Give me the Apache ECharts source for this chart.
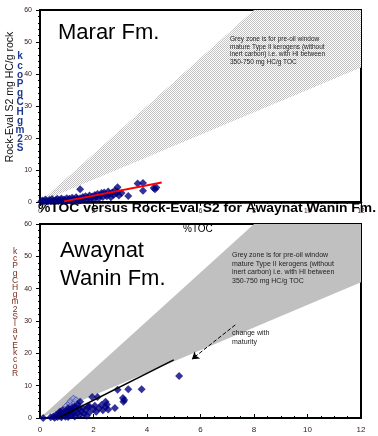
<!DOCTYPE html>
<html>
<head>
<meta charset="utf-8">
<script src="https://cdn.jsdelivr.net/npm/echarts@6/dist/echarts.min.js"></script>
<style>
  html, body { margin: 0; padding: 0; background: #fff; }
  #chart { width: 378px; height: 436px; }
</style>
</head>
<body>
<div id="chart"></div>
<script>
// grey zone (HI 350-750) polygon, clipped at S2 = 60
var zoneX = [0, 12, 12, 8]
var zoneY = [0, 42, 60, 60]

// Marar Fm. samples (%TOC, S2)
var mararToc = [0.05, 0.1, 0.15, 0.2, 0.25, 0.3, 0.35, 0.4, 0.45, 0.5,
  0.55, 0.6, 0.65, 0.7, 0.75, 0.8, 0.85, 0.9, 0.95, 1.0,
  1.05, 1.1, 1.15, 1.2, 1.25, 1.3, 1.35, 1.4, 1.45, 1.5, 1.5,
  1.55, 1.6, 1.65, 1.7, 1.75, 1.8, 1.85, 1.9, 1.95, 2.0,
  2.05, 2.1, 2.15, 2.2, 2.25, 2.3, 2.35, 2.4, 2.45, 2.5,
  2.55, 2.6, 2.65, 2.7, 2.75, 2.8, 2.85, 2.9, 2.9, 2.95,
  3.05, 3.3, 3.65, 3.85, 3.85, 4.25, 4.35, 4.3]
var mararS2 = [0.2, 0.5, 0.1, 0.8, 0.3, 0.1, 0.6, 0.2, 0.9, 0.4,
  0.2, 0.7, 1.0, 0.3, 0.6, 1.1, 0.4, 0.8, 0.2, 1.2,
  0.6, 1.0, 0.3, 1.3, 0.8, 0.5, 1.5, 1.0, 0.4, 4.0, 1.2,
  0.7, 1.6, 1.0, 1.8, 0.6, 1.3, 2.0, 1.1, 1.7, 0.9,
  2.2, 1.5, 2.5, 1.2, 2.0, 2.8, 1.6, 3.0, 2.3, 1.8,
  3.3, 2.5, 1.5, 3.0, 2.2, 3.6, 2.7, 4.6, 3.2, 2.0,
  2.8, 1.9, 5.8, 5.9, 3.5, 4.4, 4.5, 4.0]
var mararTrendX = [0.9, 4.55]
var mararTrendY = [0.2, 6.1]

// Awaynat Wanin Fm. samples
var awayToc = [0.12, 0.4, 0.5, 0.55, 0.6, 0.65, 0.7, 0.72, 0.75, 0.8, 0.8, 0.85, 0.9, 0.9, 0.95,
  1.0, 1.0, 1.05, 1.05, 1.1, 1.1, 1.15, 1.2, 1.2, 1.25, 1.3, 1.3, 1.35, 1.4, 1.4, 1.45,
  1.5, 1.5, 1.55, 1.6, 1.65, 1.7, 1.75, 1.8, 1.85, 1.84, 1.95, 2.0, 2.05, 2.1, 2.15,
  2.2, 2.3, 2.35, 2.45, 2.45, 2.5, 2.55, 2.8, 2.9, 3.1, 3.12, 3.15, 3.3, 3.8, 5.2]
var awayS2 = [0, 0.2, 0.5, 0.1, 1.0, 0.3, 1.5, 0.6, 2.0, 0.2, 1.2, 2.5, 0.8, 1.8, 0.4,
  2.2, 1.0, 3.0, 0.3, 1.6, 2.6, 0.8, 3.2, 2.0, 1.2, 3.5, 0.5, 2.4, 1.5, 4.0, 2.8,
  5.0, 0.9, 2.0, 3.0, 1.3, 2.5, 0.7, 3.5, 1.8, 3.6, 6.5, 2.8, 3.8, 1.9, 6.5,
  3.0, 4.0, 2.4, 5.0, 3.4, 4.2, 2.6, 3.1, 8.7, 6.2, 5.0, 5.6, 8.9, 8.9, 13.0]
var awayHollowToc = [1.0, 1.1, 1.15, 1.2, 1.25, 1.3, 1.35, 1.4]
var awayHollowS2 = [3.8, 4.5, 5.2, 3.8, 6.0, 4.8, 5.5, 4.4]
var awayTrendX = [0.68, 5.0]
var awayTrendY = [0, 18]
var arrowX = [7.3, 5.68]
var arrowY = [28.8, 18.2]

var topLetters = ['k', 'c', 'o', 'P', 'g', 'C', 'H', 'g', 'm', '2', 'S']
var bottomLetters = ['k', 'c', 'P', 'g', 'C', 'H', 'g', 'm', '2', 'S', 'l', 'a', 'v', 'E', 'k', 'c', 'o', 'R']
var noteText = 'Grey zone is for pre-oil window\nmature Type II kerogens (without\ninert carbon) i.e. with HI between\n350-750 mg HC/g TOC'
var mainTitle = '%TOC versus Rock-Eval S2 for Awaynat Wanin Fm.'

function pairs(xs, ys) {
  return xs.map(function(x, i) { return [x, ys[i]] })
}

// dotted hatch for the upper grey zone
var pat = document.createElement('canvas')
pat.width = 2
pat.height = 2
var pc = pat.getContext('2d')
pc.fillStyle = '#ffffff'
pc.fillRect(0, 0, 2, 2)
pc.fillStyle = '#c2c2c2'
pc.fillRect(0, 0, 1, 1)
pc.fillRect(1, 1, 1, 1)

// squeeze the bold title so it spans the same width as the original
var titleFont = 'bold 13px "Liberation Sans"'
pc.font = titleFont
var titleScale = 338 / pc.measureText(mainTitle).width

function zoneSeries(idx, fill) {
  return {
    type: 'custom',
    xAxisIndex: idx,
    yAxisIndex: idx,
    data: pairs(zoneX, zoneY),
    silent: true,
    z: 1,
    renderItem: function(params, api) {
      if (params.dataIndex !== 0) return null
      var pts = zoneX.map(function(x, i) { return api.coord([x, zoneY[i]]) })
      return { type: 'polygon', shape: { points: pts }, style: { fill: fill } }
    }
  }
}

var labelColor = '#3a2020'
function xAxisCfg(idx, fs, margin, inside) {
  return {
    gridIndex: idx, type: 'value', min: 0, max: 12, interval: 2,
    axisLine: { lineStyle: { color: '#000', width: idx === 0 ? 2.5 : 1.5 } },
    axisTick: { inside: inside, length: 4, lineStyle: { color: '#000' } },
    minorTick: { show: true, splitNumber: 4, length: 2, lineStyle: { color: '#000' } },
    splitLine: { show: false },
    axisLabel: { fontSize: fs, margin: margin, color: labelColor, fontFamily: 'Liberation Sans' }
  }
}
function yAxisCfg(idx) {
  return {
    gridIndex: idx, type: 'value', min: 0, max: 60, interval: 10,
    axisLine: { lineStyle: { color: '#000', width: 1 } },
    axisTick: { length: 4, lineStyle: { color: '#000' } },
    minorTick: { show: true, splitNumber: 5, length: 2, lineStyle: { color: '#000' } },
    splitLine: { show: false },
    axisLabel: { fontSize: 7, margin: 8, color: labelColor, fontFamily: 'Liberation Sans' }
  }
}

function txt(x, y, text, style) {
  return { type: 'text', x: x, y: y, z: 100, style: Object.assign({ text: text, fill: '#000', fontFamily: 'Liberation Sans' }, style) }
}

var chart = echarts.init(document.getElementById('chart'))
chart.setOption({
  animation: false,
  grid: [
    { left: 40, top: 10, width: 321, height: 192, show: true, borderColor: '#000', borderWidth: 2 },
    { left: 40, top: 224, width: 321, height: 194, show: true, borderColor: '#000', borderWidth: 2 }
  ],
  xAxis: [xAxisCfg(0, 6.5, 6, false), xAxisCfg(1, 8, 8, true)],
  yAxis: [yAxisCfg(0), yAxisCfg(1)],
  graphic: [
    txt(58, 33, 'Marar Fm.', { fontSize: 22, verticalAlign: 'middle' }),
    txt(60, 251, 'Awaynat', { fontSize: 22, verticalAlign: 'middle' }),
    txt(60, 279, 'Wanin Fm.', { fontSize: 22, verticalAlign: 'middle' }),
    { type: 'text', x: 38, y: 208, scaleX: titleScale, z: 90,
      style: { text: mainTitle, font: titleFont, fill: '#000', verticalAlign: 'middle' } },
    txt(183, 229, '%TOC', { fontSize: 10, verticalAlign: 'middle' }),
    { type: 'text', x: 10, y: 97, rotation: Math.PI / 2, z: 100,
      style: { text: 'Rock-Eval S2 mg HC/g rock', fontSize: 10.5, fill: '#111', fontFamily: 'Liberation Sans', align: 'center', verticalAlign: 'middle' } },
    txt(20, 52, topLetters.join('\n'), { fontSize: 10, fontWeight: 'bold', fill: '#1f3a93', align: 'center', lineHeight: 9.2 }),
    txt(15, 248, bottomLetters.join('\n'), { fontSize: 8.5, fill: '#7a2e1e', align: 'center', lineHeight: 7.2 }),
    txt(230, 36, noteText, { fontSize: 6.5, lineHeight: 7.4, fill: '#222' }),
    txt(232, 251, noteText, { fontSize: 7, lineHeight: 8.6, fill: '#222' }),
    txt(232, 329, 'change with\nmaturity', { fontSize: 7, lineHeight: 9, fill: '#222' })
  ],
  series: [
    zoneSeries(0, { image: pat, repeat: 'repeat' }),
    zoneSeries(1, '#c0c0c0'),
    {
      type: 'scatter', xAxisIndex: 0, yAxisIndex: 0, symbol: 'diamond', symbolSize: 8, z: 3,
      itemStyle: { color: '#000080' },
      data: pairs(mararToc, mararS2)
    },
    {
      type: 'line', xAxisIndex: 0, yAxisIndex: 0, symbol: 'none', z: 4,
      lineStyle: { color: '#ff0000', width: 2 },
      data: pairs(mararTrendX, mararTrendY)
    },
    {
      type: 'scatter', xAxisIndex: 1, yAxisIndex: 1, symbol: 'diamond', symbolSize: 7, z: 3,
      itemStyle: { color: '#9aa0d4', borderColor: '#2a3a9a', borderWidth: 0.8 },
      data: pairs(awayHollowToc, awayHollowS2)
    },
    {
      type: 'scatter', xAxisIndex: 1, yAxisIndex: 1, symbol: 'diamond', symbolSize: 8, z: 3,
      itemStyle: { color: '#000080' },
      data: pairs(awayToc, awayS2)
    },
    {
      type: 'line', xAxisIndex: 1, yAxisIndex: 1, symbol: 'none', z: 4,
      lineStyle: { color: '#000', width: 1.5 },
      data: pairs(awayTrendX, awayTrendY)
    },
    {
      type: 'lines', coordinateSystem: 'cartesian2d', xAxisIndex: 1, yAxisIndex: 1, z: 4,
      symbol: ['none', 'arrow'], symbolSize: 7,
      itemStyle: { color: '#000' },
      lineStyle: { color: '#000', width: 1, type: 'dashed', opacity: 1 },
      data: [{ coords: pairs(arrowX, arrowY) }]
    }
  ]
})
</script>
</body>
</html>
